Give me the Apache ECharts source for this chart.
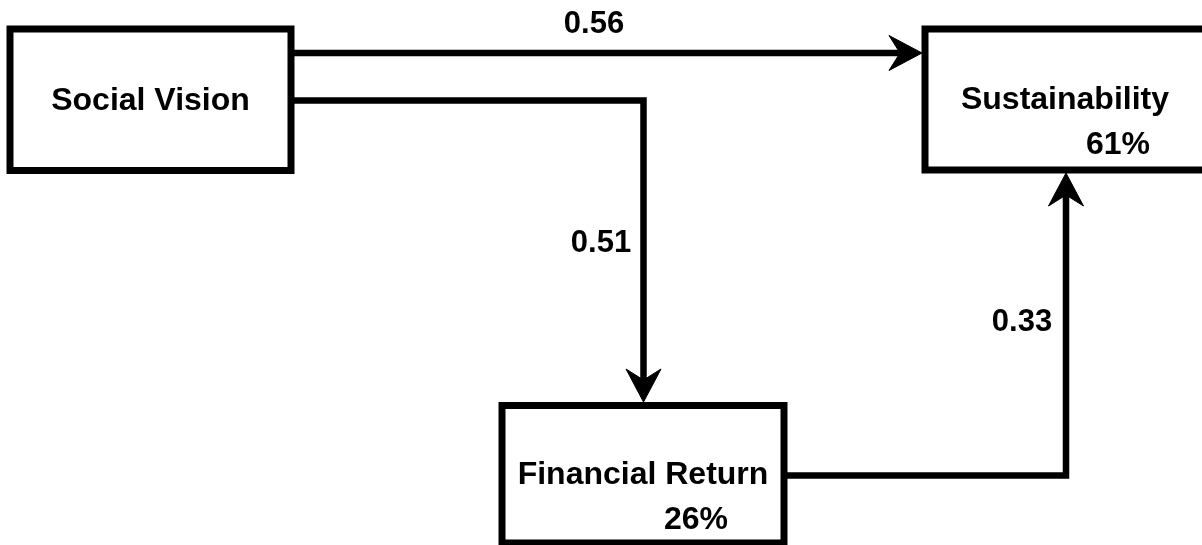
<!DOCTYPE html>
<html>
<head>
<meta charset="utf-8">
<script src="https://cdn.jsdelivr.net/npm/echarts@6/dist/echarts.min.js"></script>
<style>
html, body { margin: 0; padding: 0; background: #fff; }
#path-model { width: 1202px; height: 545px; }
</style>
</head>
<body>
<div id="path-model"></div>
<script>
// boxes of the path model, in diagram units (y grows downward)
const nodeNames = ['Social Vision', 'Sustainability', 'Financial Return']
const nodeR2 = ['', '61%', '26%']
const nodeLeft = [10, 925, 502]
const nodeTop = [29, 29, 405.5]
const nodeRight = [291, 1208, 784]
const nodeBottom = [170.5, 170, 543]

// paths between the boxes with their coefficients
const edgeCoef = ['0.56', '0.51', '0.33']
const edgeRouteX = [[291, 922], [291, 643.5, 643.5], [784, 1066, 1066]]
const edgeRouteY = [[53, 53], [100.5, 100.5, 402], [475.5, 475.5, 173]]
const edgeLabelX = [594, 601, 1022]
const edgeLabelY = [23, 242.5, 321.5]

const font = '"Liberation Sans", Arial, Helvetica, sans-serif'

function renderNode(params, api) {
  const i = params.dataIndex
  const p0 = api.coord([api.value(0), api.value(1)])
  const p1 = api.coord([api.value(2), api.value(3)])
  const cx = Math.min((p0[0] + p1[0]) / 2, 1065)
  const cy = (p0[1] + p1[1]) / 2
  const children = [
    {
      type: 'rect',
      shape: {x: p0[0], y: p0[1], width: p1[0] - p0[0], height: p1[1] - p0[1]},
      style: {fill: '#fff', stroke: '#000', lineWidth: 7}
    },
    {
      type: 'text',
      style: {
        text: nodeNames[i], x: cx, y: cy + 1,
        align: 'center', verticalAlign: 'middle',
        font: 'bold 32px ' + font, fill: '#000'
      }
    }
  ]
  if (nodeR2[i]) {
    children.push({
      type: 'text',
      style: {
        text: nodeR2[i], x: cx + 53, y: cy + 46,
        align: 'center', verticalAlign: 'middle',
        font: 'bold 32px ' + font, fill: '#000'
      }
    })
  }
  return {type: 'group', children: children}
}

function renderEdge(params, api) {
  const i = api.value(0)
  const pts = edgeRouteX[i].map((x, k) => api.coord([x, edgeRouteY[i][k]]))
  const tip = pts[pts.length - 1]
  const prev = pts[pts.length - 2]
  const dx = tip[0] - prev[0]
  const dy = tip[1] - prev[1]
  const len = Math.sqrt(dx * dx + dy * dy)
  const ux = dx / len, uy = dy / len
  const nx = -uy, ny = ux
  const headLen = 33, headHalf = 17.5, notch = 11
  const bx = tip[0] - ux * headLen, by = tip[1] - uy * headLen
  const mx = tip[0] - ux * (headLen - notch), my = tip[1] - uy * (headLen - notch)
  const linePts = pts.slice(0, -1).concat([[tip[0] - ux * 20, tip[1] - uy * 20]])
  const lp = api.coord([edgeLabelX[i], edgeLabelY[i]])
  return {
    type: 'group',
    children: [
      {
        type: 'polyline',
        shape: {points: linePts},
        style: {stroke: '#000', lineWidth: 6.5, fill: null, lineJoin: 'miter', lineCap: 'butt'}
      },
      {
        type: 'polygon',
        shape: {points: [
          tip,
          [bx + nx * headHalf, by + ny * headHalf],
          [mx, my],
          [bx - nx * headHalf, by - ny * headHalf]
        ]},
        style: {fill: '#000', stroke: '#000', lineWidth: 1}
      },
      {
        type: 'text',
        style: {
          text: edgeCoef[i], x: lp[0], y: lp[1] + 1,
          align: 'center', verticalAlign: 'middle',
          font: 'bold 31px ' + font, fill: '#000'
        }
      }
    ]
  }
}

const myChart = echarts.init(document.getElementById('path-model'))
myChart.setOption({
  animation: false,
  backgroundColor: '#fff',
  grid: {left: 0, right: 0, top: 0, bottom: 0},
  xAxis: {type: 'value', min: 0, max: 1202, show: false},
  yAxis: {type: 'value', min: 0, max: 545, inverse: true, show: false},
  series: [
    {
      type: 'custom',
      name: 'nodes',
      renderItem: renderNode,
      data: nodeNames.map((n, i) => [nodeLeft[i], nodeTop[i], nodeRight[i], nodeBottom[i]]),
      z: 1
    },
    {
      type: 'custom',
      name: 'paths',
      renderItem: renderEdge,
      data: edgeCoef.map((c, i) => [i]),
      z: 2
    }
  ]
})
</script>
</body>
</html>
